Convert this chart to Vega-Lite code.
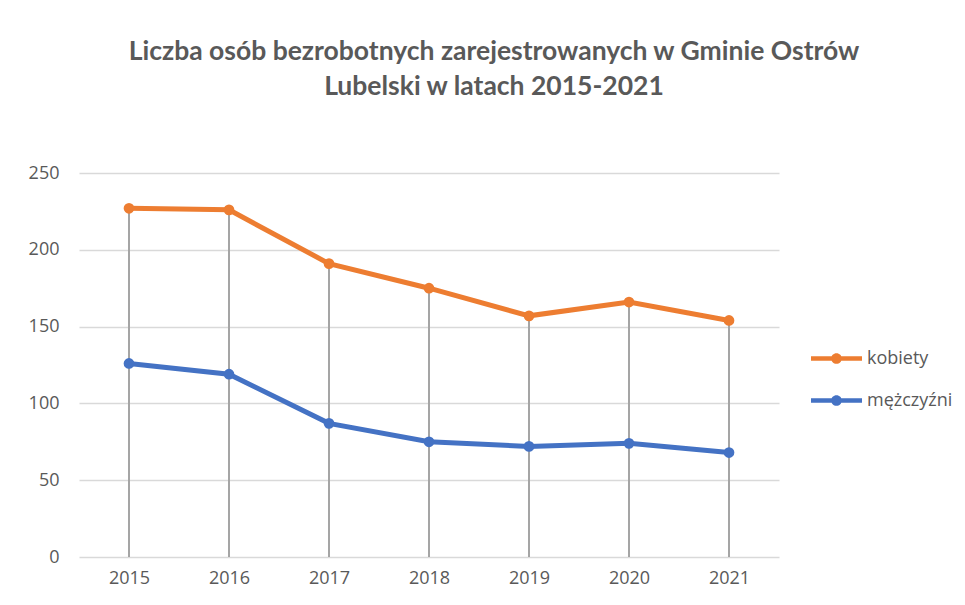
{
  "$schema": "https://vega.github.io/schema/vega-lite/v6.json",
  "width": 700,
  "height": 384,
  "autosize": {"type": "none"},
  "padding": {"left": 79, "top": 173, "right": 186, "bottom": 48},
  "background": "#ffffff",
  "title": {
    "text": ["Liczba osób bezrobotnych zarejestrowanych w Gminie Ostrów", "Lubelski w latach 2015-2021"],
    "anchor": "middle",
    "frame": "group",
    "baseline": "top",
    "offset": 64,
    "dx": 65,
    "font": "Lato",
    "fontSize": 26.5,
    "fontWeight": "bold",
    "color": "#595959",
    "lineHeight": 35
  },
  "config": {
    "view": {"stroke": null},
    "axis": {"labelFont": "Open Sans", "labelFontSize": 18, "labelColor": "#595959"}
  },
  "data": {
    "values": [
      {"year": "2015", "series": "kobiety", "value": 227},
      {"year": "2016", "series": "kobiety", "value": 226},
      {"year": "2017", "series": "kobiety", "value": 191},
      {"year": "2018", "series": "kobiety", "value": 175},
      {"year": "2019", "series": "kobiety", "value": 157},
      {"year": "2020", "series": "kobiety", "value": 166},
      {"year": "2021", "series": "kobiety", "value": 154},
      {"year": "2015", "series": "mężczyźni", "value": 126},
      {"year": "2016", "series": "mężczyźni", "value": 119},
      {"year": "2017", "series": "mężczyźni", "value": 87},
      {"year": "2018", "series": "mężczyźni", "value": 75},
      {"year": "2019", "series": "mężczyźni", "value": 72},
      {"year": "2020", "series": "mężczyźni", "value": 74},
      {"year": "2021", "series": "mężczyźni", "value": 68}
    ]
  },
  "encoding": {
    "x": {
      "field": "year", "type": "ordinal",
      "scale": {"type": "point", "padding": 0.5},
      "axis": {"title": null, "labelAngle": 0, "domain": false, "ticks": false, "grid": false, "labelPadding": 12}
    },
    "y": {
      "field": "value", "type": "quantitative",
      "scale": {"domain": [0, 250], "nice": false},
      "axis": {"title": null, "values": [0, 50, 100, 150, 200, 250], "domain": false, "ticks": false, "grid": true, "gridColor": "#D9D9D9", "gridWidth": 1.5, "labelPadding": 20}
    }
  },
  "layer": [
    {
      "transform": [{"filter": "datum.series === 'kobiety'"}],
      "mark": {"type": "rule", "color": "#A5A5A5", "strokeWidth": 2},
      "encoding": {"y2": {"datum": 0}}
    },
    {
      "mark": {"type": "line", "strokeWidth": 5},
      "encoding": {
        "color": {
          "field": "series", "type": "nominal",
          "scale": {"domain": ["kobiety", "mężczyźni"], "range": ["#ED7D31", "#4472C4"]}
        }
      }
    },
    {
      "mark": {"type": "point", "filled": true, "opacity": 1, "size": 115},
      "encoding": {
        "color": {
          "field": "series", "type": "nominal",
          "scale": {"domain": ["kobiety", "mężczyźni"], "range": ["#ED7D31", "#4472C4"]},
          "legend": {
            "title": null,
            "orient": "none",
            "legendX": 732,
            "legendY": 160,
            "padding": 0,
            "symbolType": "M-1,-0.09L1,-0.09L1,0.09L-1,0.09Z M0.21,0A0.21,0.21,0,1,1,-0.21,0A0.21,0.21,0,1,1,0.21,0Z",
            "symbolSize": 2601,
            "symbolStrokeWidth": 0,
            "symbolOpacity": 1,
            "labelFont": "Open Sans",
            "labelFontSize": 18,
            "labelColor": "#595959",
            "labelOffset": 5,
            "rowPadding": 7
          }
        }
      }
    }
  ]
}
